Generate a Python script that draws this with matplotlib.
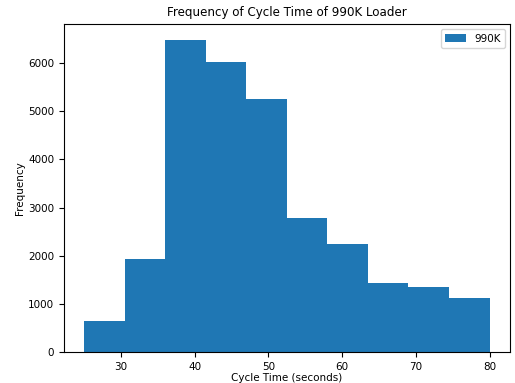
import matplotlib
matplotlib.use("Agg")
import matplotlib.pyplot as plt

# bin edges and counts
bin_edges = [25.0, 30.5, 36.0, 41.5, 47.0, 52.5, 58.0, 63.5, 69.0, 74.5, 80.0]
counts = [645, 1928, 6484, 6013, 5250, 2788, 2233, 1436, 1352, 1123]
label = "990K"

plt.rcParams["font.size"] = 7.5

fig, ax = plt.subplots(figsize=(5.15, 3.83), dpi=100)
fig.subplots_adjust(left=0.124, right=0.99, top=0.937, bottom=0.081)

ax.hist(bin_edges[:-1], bins=bin_edges, weights=counts, color="#1f77b4", label=label)
ax.set_title("Frequency of Cycle Time of 990K Loader", fontsize=8.6)
ax.set_xlabel("Cycle Time (seconds)", labelpad=1)
ax.set_ylabel("Frequency", labelpad=2)
ax.set_xticks([30, 40, 50, 60, 70, 80])
ax.legend(loc="upper right")

fig.savefig("out.png")
